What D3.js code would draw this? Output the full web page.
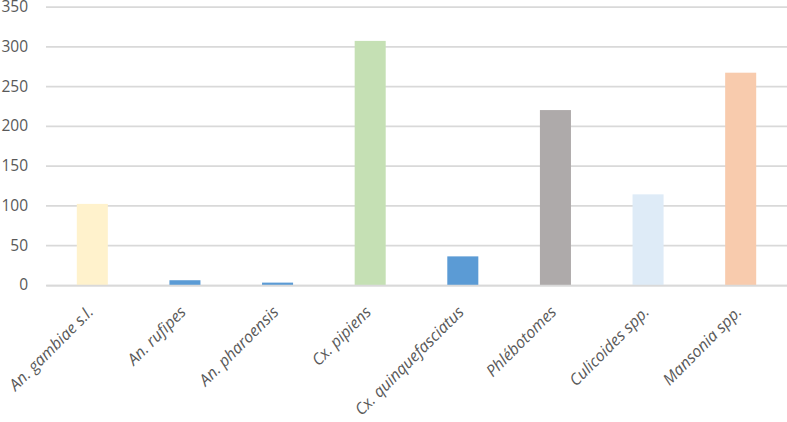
<!DOCTYPE html>
<html>
<head>
<meta charset="utf-8">
<script src="https://cdn.jsdelivr.net/npm/d3@7"></script>
<style>
  body { margin: 0; background: #fff; }
  svg { display: block; }
  text { font-family: "Open Sans", sans-serif; fill: #595959; }
</style>
</head>
<body>
<svg id="chart" width="787" height="422"></svg>
<script>
var categories = ["An. gambiae s.l.", "An. rufipes", "An. pharoensis", "Cx. pipiens",
                  "Cx. quinquefasciatus", "Phlébotomes", "Culicoides spp.", "Mansonia spp."];
var counts = [102, 6, 3, 307, 36, 220, 114, 267];
var barColors = ["#FFF2CC", "#5B9BD5", "#5B9BD5", "#C5E0B4", "#5B9BD5", "#AEAAAA", "#DEEBF7", "#F8CBAD"];
var yTicks = [0, 50, 100, 150, 200, 250, 300, 350];

var svg = d3.select("#chart"),
    MARGINS = { top: 6.7, right: 0, bottom: 137, left: 46 },
    WIDTH = 787,
    HEIGHT = 422;

var xScale = d3.scaleBand()
  .domain(categories)
  .range([MARGINS.left, WIDTH - MARGINS.right])
  .paddingInner(0.665)
  .paddingOuter(0.3325);

var yScale = d3.scaleLinear()
  .domain([0, 350])
  .range([HEIGHT - MARGINS.bottom, MARGINS.top]);

// gridlines + y labels
var yAxis = d3.axisLeft(yScale)
  .tickValues(yTicks)
  .tickSize(-(WIDTH - MARGINS.left - MARGINS.right))
  .tickPadding(18);

var gy = svg.append("g")
  .attr("transform", "translate(" + MARGINS.left + ",0)")
  .call(yAxis);
gy.select(".domain").remove();
gy.selectAll(".tick line").attr("stroke", "#D9D9D9").attr("stroke-width", 1.75);
gy.selectAll(".tick text")
  .attr("x", -18)
  .style("font-size", "15.5px")
  .style("fill", "#595959");

// bars
svg.append("g").selectAll("rect")
  .data(counts)
  .enter().append("rect")
  .attr("x", function(d, i) { return xScale(categories[i]); })
  .attr("width", xScale.bandwidth())
  .attr("y", function(d) { return yScale(d); })
  .attr("height", function(d) { return yScale(0) - yScale(d); })
  .attr("fill", function(d, i) { return barColors[i]; });

// x axis labels
var xAxis = d3.axisBottom(xScale).tickSize(0).tickPadding(0);
var gx = svg.append("g")
  .attr("transform", "translate(0," + yScale(0) + ")")
  .call(xAxis);
gx.select(".domain").attr("stroke", "#D9D9D9").attr("stroke-width", 1.75);
gx.selectAll(".tick text")
  .attr("text-anchor", "end")
  .attr("dy", null)
  .attr("y", 0)
  .attr("transform", "translate(2,28) rotate(-45)")
  .style("font-size", "16px")
  .style("font-style", "italic")
  .style("fill", "#595959");
</script>
</body>
</html>
